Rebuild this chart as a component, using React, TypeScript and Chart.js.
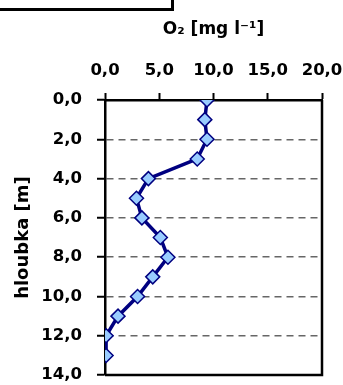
import React, { useEffect, useRef } from "react";
import { Chart, registerables } from "chart.js";

Chart.register(...registerables);

const depths: number[] = [0, 1, 2, 3, 4, 5, 6, 7, 8, 9, 10, 11, 12, 13];
const oxygen: number[] = [9.4, 9.2, 9.4, 8.5, 4.0, 2.9, 3.4, 5.1, 5.8, 4.4, 3.0, 1.2, 0.1, 0.1];
const xTitle = "O₂ [mg l⁻¹]";
const yTitle = "hloubka [m]";

const fmt = (v: number | string) => Number(v).toFixed(1).replace(".", ",");

const framePlugin = {
  id: "frame",
  afterDatasetsDraw(chart: any) {
    const { ctx, chartArea } = chart;
    ctx.save();
    ctx.strokeStyle = "#000";
    ctx.lineWidth = 2.5;
    ctx.beginPath();
    ctx.moveTo(chartArea.right, chartArea.top);
    ctx.lineTo(chartArea.right, chartArea.bottom);
    ctx.lineTo(chartArea.left, chartArea.bottom);
    ctx.stroke();
    ctx.restore();
  },
};

export default function App() {
  const ref = useRef<HTMLCanvasElement | null>(null);

  useEffect(() => {
    if (!ref.current) return;
    const points = depths.map((d, i) => ({ x: oxygen[i], y: d }));
    const font = { family: "'DejaVu Sans', sans-serif", weight: "bold" as const };
    const chart = new Chart(ref.current, {
      type: "scatter",
      data: {
        datasets: [
          {
            data: points,
            showLine: true,
            borderColor: "#000080",
            borderWidth: 3.5,
            pointStyle: "rectRot",
            pointRadius: 7,
            pointBackgroundColor: "#99CCFF",
            pointBorderColor: "#000080",
            pointBorderWidth: 1.5,
          },
        ],
      },
      options: {
        animation: false,
        responsive: false,
        devicePixelRatio: 1,
        layout: { padding: { left: 0, top: 0, right: 78, bottom: 23 } },
        plugins: { legend: { display: false }, tooltip: { enabled: false } },
        scales: {
          x: {
            type: "linear",
            position: "top",
            min: 0,
            max: 20,
            ticks: {
              stepSize: 5,
              callback: (v: any) => fmt(v),
              color: "#000",
              font: { ...font, size: 16.5 },
              padding: 12,
              maxRotation: 0,
            },
            grid: {
              display: true,
              drawOnChartArea: false,
              drawTicks: true,
              tickLength: 7,
              tickColor: "#000",
              tickWidth: 2,
            },
            border: { display: true, color: "#000", width: 2.5 },
            title: {
              display: true,
              text: xTitle,
              color: "#000",
              font: { ...font, size: 17 },
              padding: { top: 19, bottom: 0 },
            },
            afterFit: (s: any) => {
              s.height = 100;
            },
          },
          y: {
            type: "linear",
            position: "left",
            reverse: true,
            min: 0,
            max: 14,
            ticks: {
              stepSize: 2,
              callback: (v: any) => fmt(v),
              color: "#000",
              font: { ...font, size: 16.5 },
              padding: 15,
            },
            grid: {
              display: true,
              drawOnChartArea: true,
              color: (c: any) =>
                c.tick && (c.tick.value === 0 || c.tick.value === 14) ? "rgba(0,0,0,0)" : "#666666",
              lineWidth: 1.5,
              drawTicks: true,
              tickLength: 8,
              tickColor: "#000",
              tickWidth: 2,
            },
            border: { display: true, color: "#000", width: 2.5, dash: [7, 5] },
            title: {
              display: true,
              text: yTitle,
              color: "#000",
              font: { ...font, size: 18 },
              padding: { top: 13, bottom: 0 },
            },
            afterFit: (s: any) => {
              s.width = 105;
            },
          },
        },
      },
      plugins: [framePlugin],
    });
    return () => chart.destroy();
  }, []);

  return (
    <div
      style={{
        position: "fixed",
        left: 0,
        top: 0,
        width: 343,
        height: 385,
        overflow: "hidden",
        background: "#fff",
      }}
    >
      <canvas ref={ref} width={400} height={400} style={{ width: 400, height: 400, display: "block" }} />
      <div
        style={{
          position: "absolute",
          left: -10,
          top: -10,
          width: 184,
          height: 21,
          boxSizing: "border-box",
          border: "3px solid #000",
        }}
      />
    </div>
  );
}
